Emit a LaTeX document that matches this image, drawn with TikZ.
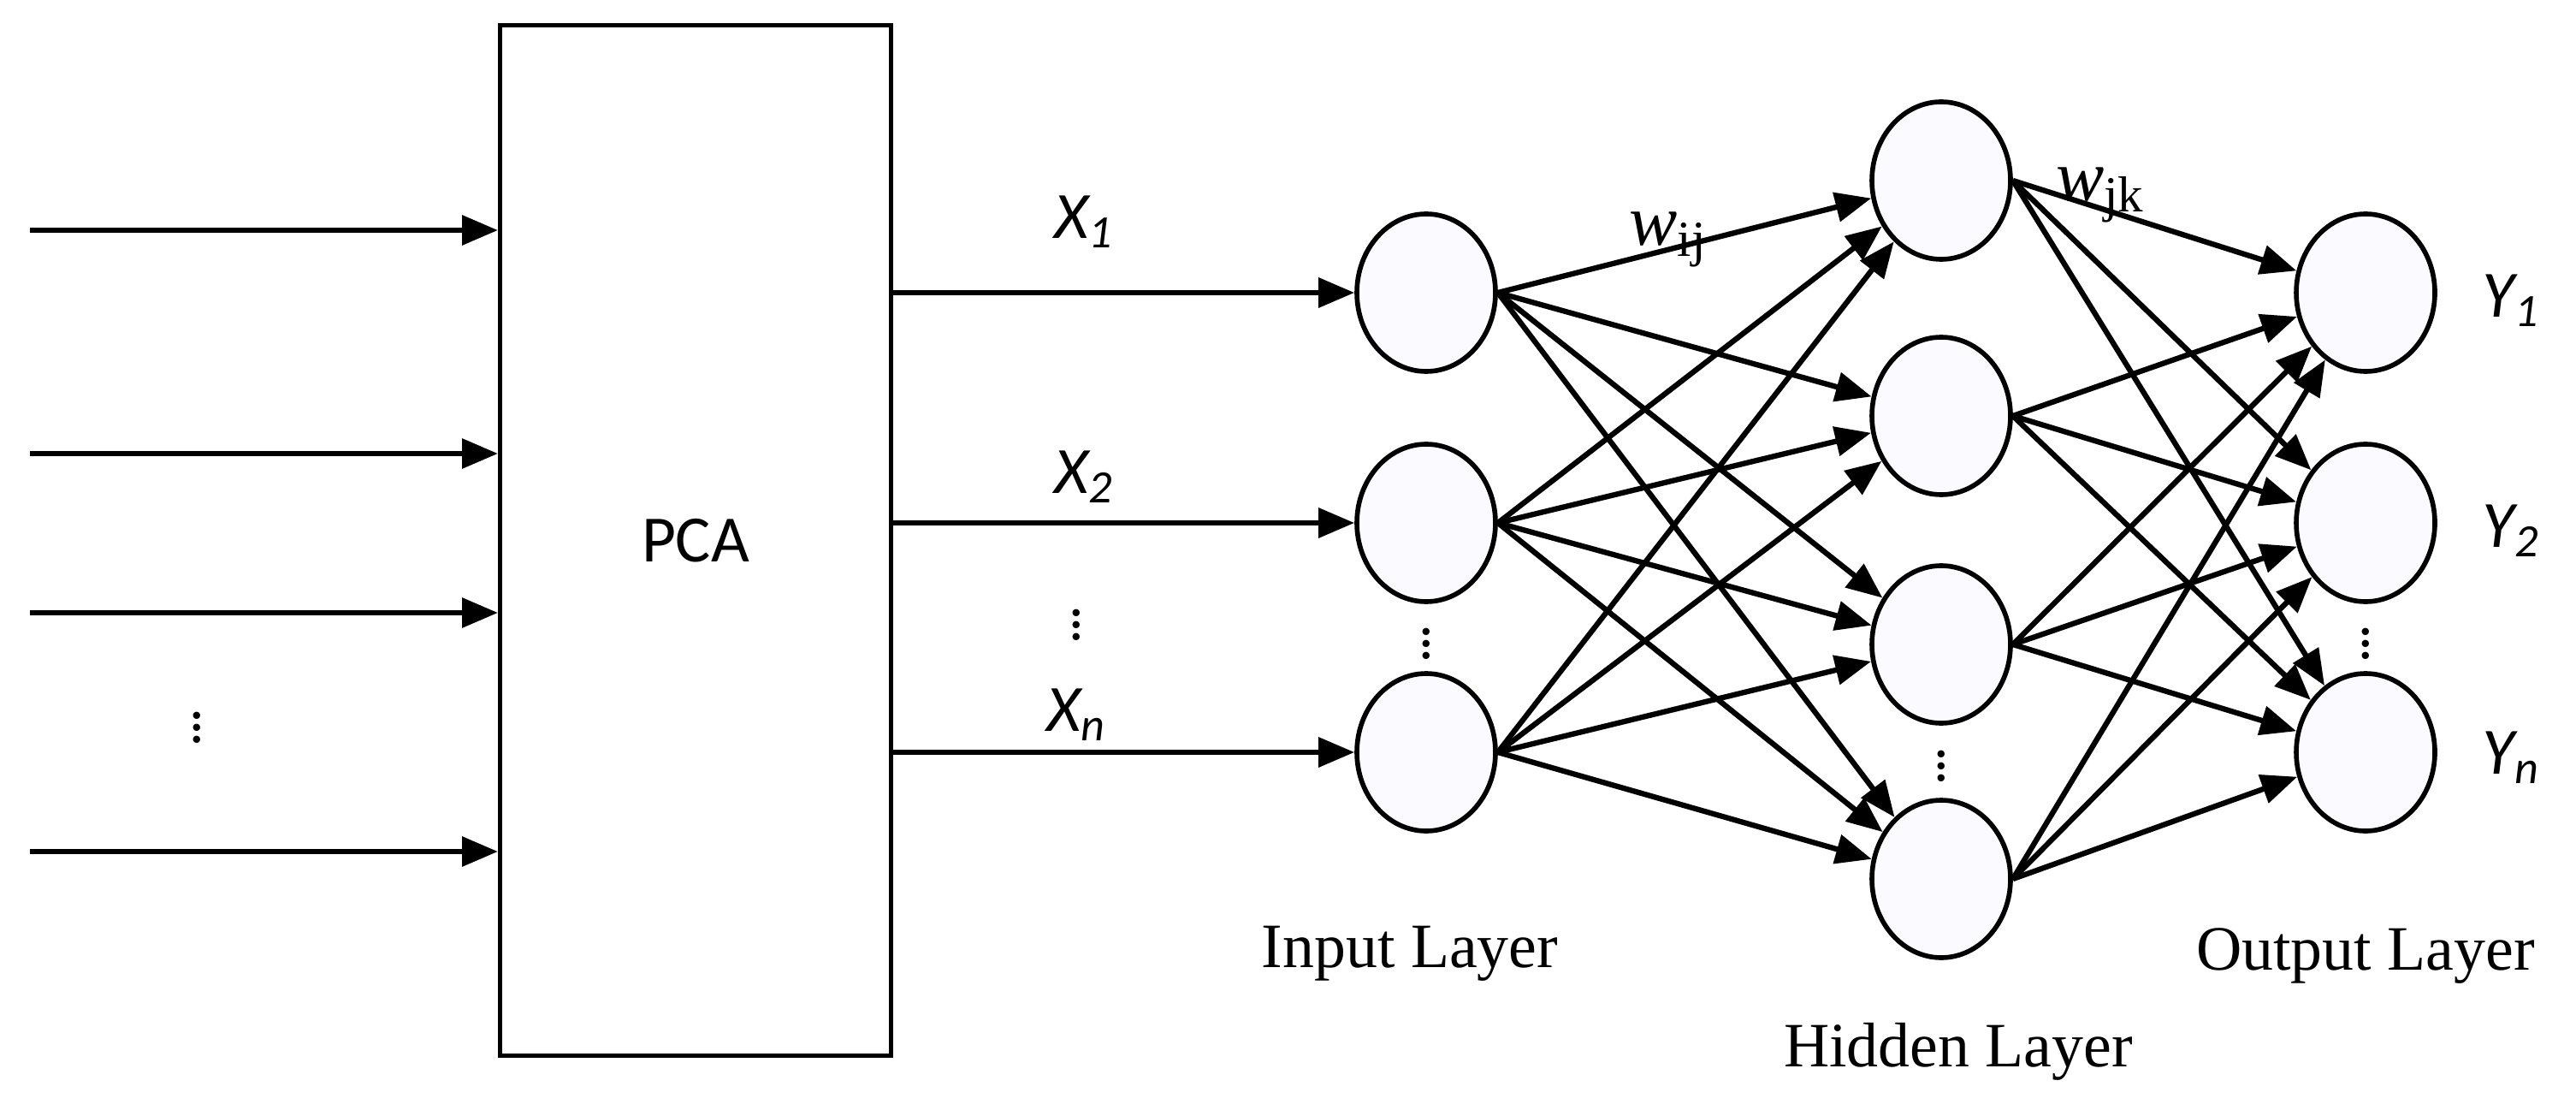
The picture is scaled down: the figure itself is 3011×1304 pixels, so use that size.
\documentclass[tikz,border=0pt]{standalone}
\usepackage{fontspec}
\setmainfont{Liberation Serif}
\newfontfamily\calfont{Carlito}
\usetikzlibrary{arrows.meta,shapes.geometric}
\begin{document}
\begin{tikzpicture}[x=0.1mm,y=-0.1mm,
  conn/.style={line width=1.8pt,-{Triangle[length=4.2mm,width=3.4mm]}},
  neu/.style={ellipse,draw,line width=1.6pt,minimum width=16.2mm,minimum height=18.4mm,inner sep=0pt,fill=blue!2},
  xl/.style={font=\calfont\itshape\fontsize{22}{24}\selectfont},
  ll/.style={font=\fontsize{21}{24}\selectfont},
  dots/.style={font=\fontsize{20}{22}\selectfont}]
\useasboundingbox (0,0) rectangle (3011,1304);
\node[draw,line width=1.4pt,minimum width=45.7mm,minimum height=120.4mm,anchor=north west,font=\calfont\fontsize{22}{24}\selectfont] (pca) at (582,27) {PCA};
\foreach \y/\n in {269/a,530/b,716/c,995/d}{
  \coordinate (s\n) at (35,\y);
  \draw[conn] (s\n) -- (pca.west |- s\n);}
\node[dots] (ld) at (230,840) {$\vdots$};
\foreach \y/\n in {342/1,611/2,879/3}{
  \node[neu] (i\n) at (1667,\y) {};
  \node[neu] (o\n) at (2765,\y) {};}
\foreach \y/\n in {211/1,486/2,753/3,1027/4}{
  \node[neu] (h\n) at (2269,\y) {};}
\foreach \n in {1,2,3}{
  \coordinate (p\n) at (pca.east |- i\n);
  \draw[conn] (p\n) -- (i\n);}
\foreach \a in {1,2,3}{\foreach \b in {1,2,3,4}{\draw[conn] (i\a.east) -- (h\b);}}
\foreach \b in {1,2,3,4}{\foreach \a in {1,2,3}{\draw[conn] (h\b.east) -- (o\a);}}
\node[xl] (x1) at (1267,259) {X\textsubscript{1}};
\node[xl] (x2) at (1267,557) {X\textsubscript{2}};
\node[dots] (xd) at (1258,720) {$\vdots$};
\node[xl] (xn) at (1258,835) {X\textsubscript{n}};
\node[dots] (id) at (1667,742) {$\vdots$};
\node[dots] (hd) at (2269,885) {$\vdots$};
\node[dots] (od) at (2765,742) {$\vdots$};
\node[xl] (y1) at (2935,351) {Y\textsubscript{1}};
\node[xl] (y2) at (2935,620) {Y\textsubscript{2}};
\node[xl] (yn) at (2935,885) {Y\textsubscript{n}};
\node[font=\fontsize{24}{26}\selectfont] (wij) at (1950,280) {\textit{w}\textsubscript{ij}};
\node[font=\fontsize{24}{26}\selectfont] (wjk) at (2455,228) {\textit{w}\textsubscript{jk}};
\node[ll] (il) at (1648,1114) {Input Layer};
\node[ll] (hl) at (2289,1229) {Hidden Layer};
\node[ll] (ol) at (2765,1117) {Output Layer};
\end{tikzpicture}
\end{document}
